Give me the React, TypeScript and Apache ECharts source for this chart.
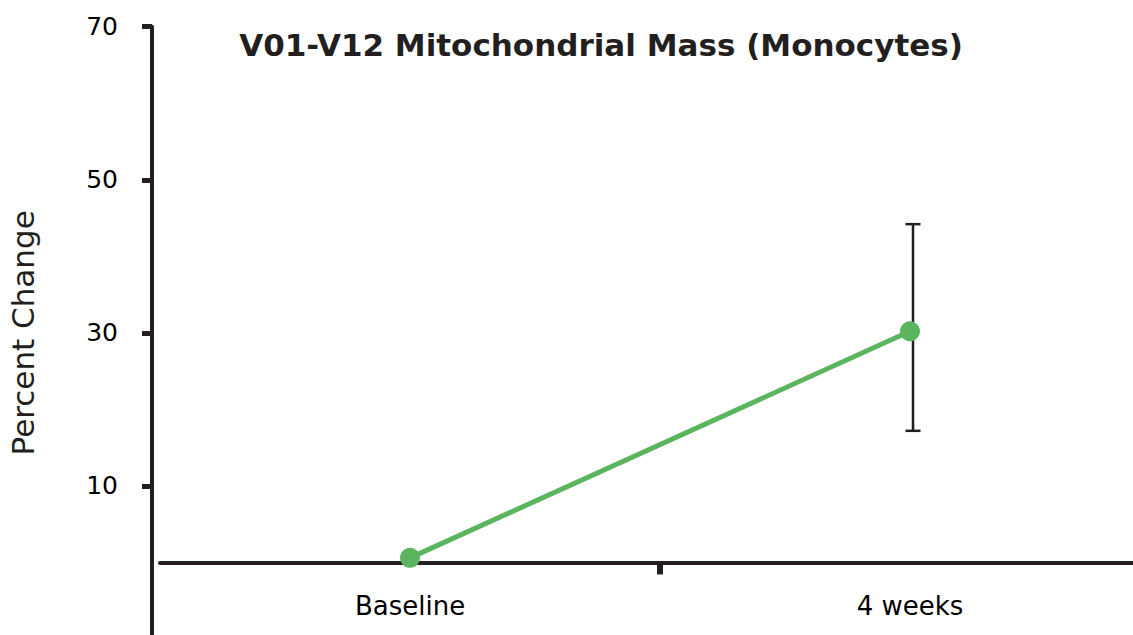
import React, { useEffect, useRef } from "react";
import * as echarts from "echarts";

const categories = ["Baseline", "4 weeks"];
const meanValues = [0.6, 30.2];
const errorLow = [null, 17.2];
const errorHigh = [null, 44.2];
const yTicks = { min: -10, max: 70, interval: 20 };
const titleText = "V01-V12 Mitochondrial Mass (Monocytes)";
const yAxisName = "Percent Change";

const DARK = "#231f20";
const GREEN = "#5ab55e";
const FONT = "'DejaVu Sans', sans-serif";

export default function App() {
  const ref = useRef<HTMLDivElement>(null);
  useEffect(() => {
    if (!ref.current) return;
    const chart = echarts.init(ref.current, undefined, { renderer: "svg" });
    const errData = categories
      .map((c, i) => (errorLow[i] == null ? null : [i, errorLow[i], errorHigh[i]]))
      .filter((d) => d != null);
    const gridTop = 26.7;
    const gridBottom = -4;
    const gridH = 635 - gridTop - gridBottom;
    const zeroFromBottom = ((0 - yTicks.min) / (yTicks.max - yTicks.min)) * gridH;
    chart.setOption({
      animation: false,
      backgroundColor: "#ffffff",
      title: {
        text: titleText,
        left: 596,
        textAlign: "center",
        top: 24,
        textStyle: { fontFamily: FONT, fontWeight: "bold", fontSize: 31, color: DARK },
      },
      grid: {
        left: 160,
        right: -27,
        top: gridTop,
        bottom: gridBottom,
        containLabel: false,
        outerBoundsMode: "none",
      },
      xAxis: {
        type: "category",
        data: categories,
        boundaryGap: true,
        offset: -zeroFromBottom,
        axisLine: { onZero: false, lineStyle: { color: DARK, width: 4 } },
        axisTick: { show: false },
        axisLabel: { margin: 31, fontFamily: FONT, fontSize: 26, color: "#000" },
        splitLine: { show: false },
      },
      yAxis: {
        type: "value",
        min: yTicks.min,
        max: yTicks.max,
        interval: yTicks.interval,
        offset: 8,
        name: yAxisName,
        nameLocation: "middle",
        nameGap: 114,
        nameTextStyle: { fontFamily: FONT, fontSize: 31, color: DARK },
        axisLine: { show: true, lineStyle: { color: DARK, width: 4 } },
        axisTick: { show: true, length: 10, lineStyle: { color: DARK, width: 5 } },
        axisLabel: {
          margin: 34,
          fontFamily: FONT,
          fontSize: 25,
          color: "#000",
          formatter: (v: number) => (v < 0 ? "" : String(v)),
        },
        splitLine: { show: false },
      },
      series: [
        {
          type: "custom",
          name: "midTick",
          data: [[0]],
          z: 1,
          silent: true,
          renderItem: (params: any, api: any) => {
            const a = api.coord([0, 0]);
            const b = api.coord([1, 0]);
            const x = (a[0] + b[0]) / 2;
            return {
              type: "line",
              shape: { x1: x, y1: a[1], x2: x, y2: a[1] + 12 },
              style: { stroke: DARK, lineWidth: 6 },
            };
          },
        },
        {
          type: "custom",
          name: "error",
          data: errData,
          z: 1,
          renderItem: (params: any, api: any) => {
            const x = api.coord([api.value(0), 0])[0] + 3;
            const lo = api.coord([api.value(0), api.value(1)])[1];
            const hi = api.coord([api.value(0), api.value(2)])[1];
            const cap = 7.5;
            const style = { stroke: DARK, lineWidth: 2.5 };
            return {
              type: "group",
              children: [
                { type: "line", shape: { x1: x, y1: lo, x2: x, y2: hi }, style },
                { type: "line", shape: { x1: x - cap, y1: hi, x2: x + cap, y2: hi }, style },
                { type: "line", shape: { x1: x - cap, y1: lo, x2: x + cap, y2: lo }, style },
              ],
            };
          },
        },
        {
          type: "line",
          data: meanValues,
          z: 3,
          symbol: "circle",
          symbolSize: 20,
          lineStyle: { color: GREEN, width: 5 },
          itemStyle: { color: GREEN },
        },
      ],
    });
    return () => chart.dispose();
  }, []);
  return (
    <div
      ref={ref}
      style={{ position: "absolute", left: 0, top: 0, width: 1133, height: 635 }}
    />
  );
}
